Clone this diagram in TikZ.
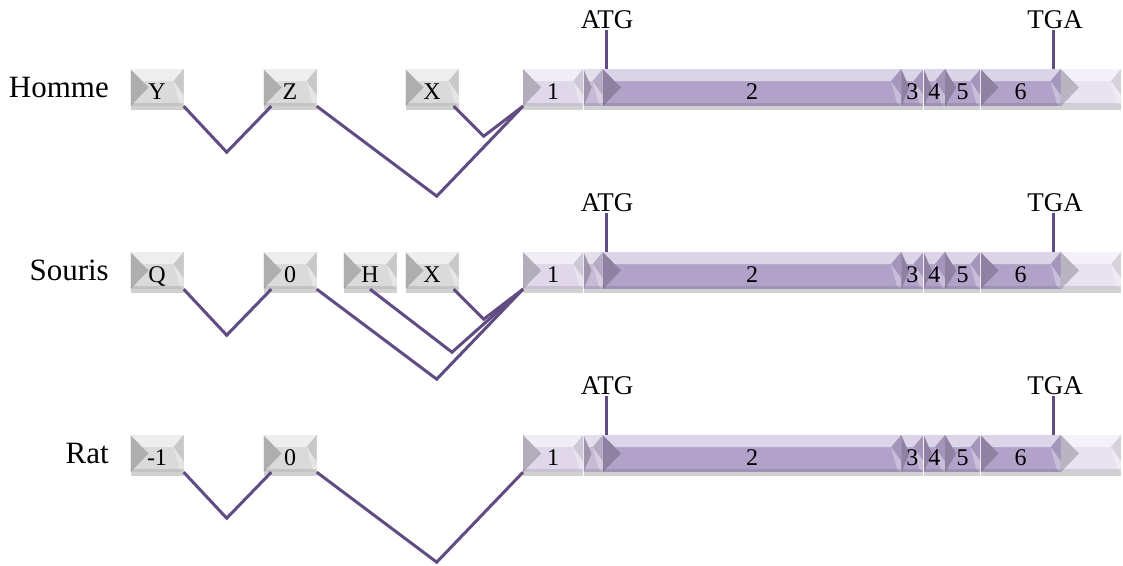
\documentclass[tikz,border=0pt]{standalone}
\usepackage{fontspec}
\setmainfont{Liberation Serif}
\usetikzlibrary{positioning, shadows}

\definecolor{boxgrey}{RGB}{218,218,218}
\definecolor{utrlight}{RGB}{224,216,234}
\definecolor{utrpale}{RGB}{232,227,240}
\definecolor{utrmid}{RGB}{198,186,214}
\definecolor{cdsviolet}{RGB}{178,162,202}
\definecolor{splice}{RGB}{96,75,130}

\tikzset{bev/.store in=\bevd, bev=18pt}

\begin{document}
\begin{tikzpicture}[
    x=1pt, y=-1pt,
    bevel/.style={rectangle, inner sep=0pt, minimum height=37pt, text height=24pt, text depth=0pt,
        font=\fontsize{24}{26}\selectfont,
        drop shadow={shadow xshift=0pt, shadow yshift=-4pt, opacity=0.18, fill=black},
        path picture={
            \fill[black, opacity=0.2] (path picture bounding box.north west) -- (path picture bounding box.south west) -- ([xshift=\bevd]path picture bounding box.west) -- cycle;
            \fill[white, opacity=0.55] (path picture bounding box.north west) -- (path picture bounding box.north east) -- ([xshift=-10pt, yshift=-12pt]path picture bounding box.north east) -- ([xshift=0.65*\bevd, yshift=-12pt]path picture bounding box.north west) -- cycle;
            \fill[black, opacity=0.08] (path picture bounding box.north east) -- ([xshift=-10pt, yshift=-12pt]path picture bounding box.north east) -- ([yshift=-26pt]path picture bounding box.north east) -- cycle;
            \fill[white, opacity=0.3] ([yshift=-26pt]path picture bounding box.north east) -- ([xshift=-10pt, yshift=-12pt]path picture bounding box.north east) -- ([xshift=-4pt, yshift=3pt]path picture bounding box.south east) -- (path picture bounding box.south east) -- cycle;
            \fill[black, opacity=0.1] (path picture bounding box.south west) -- (path picture bounding box.south east) -- ([yshift=3pt]path picture bounding box.south east) -- ([yshift=3pt]path picture bounding box.south west) -- cycle;
        }},
    gbox/.style={bevel, fill=boxgrey, minimum width=53pt},
    exon/.style={bevel, fill=#1, anchor=west},
    species/.style={font=\fontsize{31}{33}\selectfont},
    codon/.style={font=\fontsize{27}{29}\selectfont, inner sep=1pt},
    link/.style={draw=splice, line width=3pt},
]
    \useasboundingbox (0,0) rectangle (1123,565);

    % exons 1 to 6, same in all three species
    \foreach \r/\y in {h/87.5, s/270.5, r/453.5} {
        \node[exon=utrlight, minimum width=60pt] (\r-e1) at (523,\y) {1};
        \node[exon=utrmid, bev=8pt, minimum width=19pt, right=0pt of \r-e1] (\r-e1b) {};
        \node[exon=cdsviolet, minimum width=298pt, right=0pt of \r-e1b] (\r-e2) {2};
        \node[exon=cdsviolet, bev=8pt, minimum width=22pt, right=0pt of \r-e2] (\r-e3) {3};
        \node[exon=cdsviolet, bev=8pt, minimum width=21pt, right=0pt of \r-e3] (\r-e4) {4};
        \node[exon=cdsviolet, bev=11pt, minimum width=35pt, right=0pt of \r-e4] (\r-e5) {5};
        \node[exon=cdsviolet, minimum width=80pt, right=0pt of \r-e5] (\r-e6) {6};
        \node[exon=utrpale, minimum width=60pt, right=0pt of \r-e6] (\r-e7) {};
        \node[codon] (\r-atg) at (607,{\y-67.5}) {ATG};
        \node[codon] (\r-tga) at (1055,{\y-67.5}) {TGA};
        \draw[link] ([xshift=-1pt]\r-atg.south) -- ([xshift=-1pt]\r-atg.south |- \r-e2.north);
        \draw[link] ([xshift=-2pt]\r-tga.south) -- ([xshift=-2pt]\r-tga.south |- \r-e6.north);
    }

    % Homme
    \node[gbox] (h-Y) at (157,87.5) {Y};
    \node[species, left=18pt of h-Y] (h-lab) {Homme};
    \node[gbox] (h-Z) at (290,87.5) {Z};
    \node[gbox] (h-X) at (432,87.5) {X};
    \draw[link] (h-Y.south east) -- ++(43,46) -- ([xshift=8pt]h-Z.south west);
    \draw[link] (h-Z.south east) -- ++(120,90) -- (h-e1.south west);
    \draw[link] ([xshift=-5pt]h-X.south east) -- ++(30,30) -- (h-e1.south west);

    % Souris
    \node[gbox] (s-Q) at (157,270.5) {Q};
    \node[species, left=18pt of s-Q] (s-lab) {Souris};
    \node[gbox] (s-0) at (290,270.5) {0};
    \node[gbox] (s-H) at (370,270.5) {H};
    \node[gbox] (s-X) at (432,270.5) {X};
    \draw[link] (s-Q.south east) -- ++(43,46) -- ([xshift=8pt]s-0.south west);
    \draw[link] (s-0.south east) -- ++(120,90) -- (s-e1.south west);
    \draw[link] (s-H.south) -- ++(82,63) -- (s-e1.south west);
    \draw[link] ([xshift=-5pt]s-X.south east) -- ++(30,30) -- (s-e1.south west);

    % Rat
    \node[gbox] (r-m1) at (157,453.5) {-1};
    \node[species, left=18pt of r-m1] (r-lab) {Rat};
    \node[gbox] (r-0) at (290,453.5) {0};
    \draw[link] (r-m1.south east) -- ++(43,46) -- ([xshift=8pt]r-0.south west);
    \draw[link] (r-0.south east) -- ++(120,90) -- (r-e1.south west);
\end{tikzpicture}
\end{document}
